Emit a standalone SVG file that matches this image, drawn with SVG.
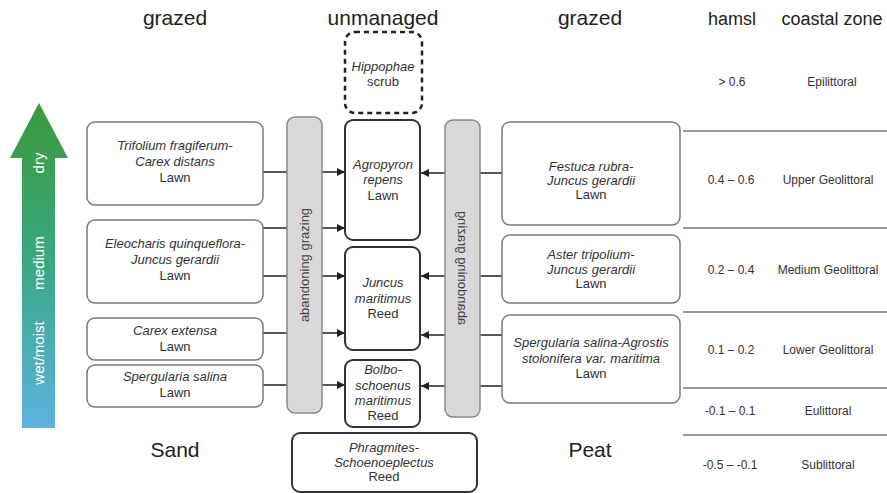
<svg xmlns="http://www.w3.org/2000/svg" width="887" height="493" viewBox="0 0 887 493">
<defs>
<linearGradient id="grad" x1="0" y1="103" x2="0" y2="428" gradientUnits="userSpaceOnUse">
<stop offset="0" stop-color="#3a9a3a"/>
<stop offset="0.5" stop-color="#3aa884"/>
<stop offset="1" stop-color="#5cb3e0"/>
</linearGradient>
<marker id="ah" viewBox="0 0 10 10" refX="10" refY="5" markerWidth="8" markerHeight="8" markerUnits="userSpaceOnUse" orient="auto">
<path d="M0,0 L10,5 L0,10 z" fill="#222"/>
</marker>
<style>
text{font-family:"Liberation Sans",Arial,sans-serif;fill:#333;text-anchor:middle}
.hdr{font-size:21px;fill:#222}
.thdr{font-size:18px;fill:#222}
.t{font-size:12px;fill:#333}
.b{font-size:13px}
.i{font-style:italic}
.side{fill:#fff;stroke:#7a7a7a;stroke-width:1.5}
.ctr{fill:#fff;stroke:#333;stroke-width:2}
.bar{fill:#d9d9d9;stroke:#8a8a8a;stroke-width:1.5}
.bartxt{font-size:13px;fill:#444}
.ax{font-size:15px;fill:#fff}
.ln{stroke:#222;stroke-width:1.5;fill:none}
.tl{stroke:#777;stroke-width:1.5}
</style>
</defs>

<g id="headers">
<text class="hdr" x="175" y="25">grazed</text>
<text class="hdr" x="383" y="25">unmanaged</text>
<text class="hdr" x="590" y="25">grazed</text>
<text class="hdr" x="175" y="457">Sand</text>
<text class="hdr" x="590" y="457">Peat</text>
</g>

<g id="moisture-arrow">
<path d="M39,103 L68,158 L55,158 L55,428 L22,428 L22,158 L10,158 z" fill="url(#grad)"/>
<text class="ax" transform="translate(44,163) rotate(-90)">dry</text>
<text class="ax" transform="translate(44,263) rotate(-90)">medium</text>
<text class="ax" transform="translate(44,353) rotate(-90)">wet/moist</text>
</g>

<g id="table">
<text class="thdr" x="732" y="25">hamsl</text>
<text class="thdr" x="832" y="25">coastal zone</text>
<line class="tl" x1="683" y1="131" x2="887" y2="131"/>
<line class="tl" x1="683" y1="228" x2="887" y2="228"/>
<line class="tl" x1="683" y1="312" x2="887" y2="312"/>
<line class="tl" x1="683" y1="388" x2="887" y2="388"/>
<line class="tl" x1="683" y1="435" x2="887" y2="435"/>
<text class="t" x="732" y="86">&gt; 0.6</text>
<text class="t" x="832" y="86">Epilittoral</text>
<text class="t" x="731" y="184">0.4 – 0.6</text>
<text class="t" x="828" y="184">Upper Geolittoral</text>
<text class="t" x="731" y="274">0.2 – 0.4</text>
<text class="t" x="828" y="274">Medium Geolittoral</text>
<text class="t" x="731" y="354">0.1 – 0.2</text>
<text class="t" x="828" y="354">Lower Geolittoral</text>
<text class="t" x="730" y="415">-0.1 – 0.1</text>
<text class="t" x="828" y="415">Eulittoral</text>
<text class="t" x="730" y="469">-0.5 – -0.1</text>
<text class="t" x="828" y="469">Sublittoral</text>
</g>

<g id="connectors">
<line class="ln" x1="263" y1="172" x2="287" y2="172"/>
<line class="ln" x1="263" y1="228" x2="287" y2="228"/>
<line class="ln" x1="263" y1="276" x2="287" y2="276"/>
<line class="ln" x1="263" y1="333" x2="287" y2="333"/>
<line class="ln" x1="263" y1="385" x2="287" y2="385"/>
<line class="ln" x1="322" y1="172" x2="345" y2="172" marker-end="url(#ah)"/>
<line class="ln" x1="322" y1="228" x2="345" y2="228" marker-end="url(#ah)"/>
<line class="ln" x1="322" y1="276" x2="345" y2="276" marker-end="url(#ah)"/>
<line class="ln" x1="322" y1="333" x2="345" y2="333" marker-end="url(#ah)"/>
<line class="ln" x1="322" y1="385" x2="345" y2="385" marker-end="url(#ah)"/>
<line class="ln" x1="445" y1="173" x2="421" y2="173" marker-end="url(#ah)"/>
<line class="ln" x1="445" y1="276" x2="421" y2="276" marker-end="url(#ah)"/>
<line class="ln" x1="445" y1="335" x2="421" y2="335" marker-end="url(#ah)"/>
<line class="ln" x1="445" y1="386" x2="421" y2="386" marker-end="url(#ah)"/>
<line class="ln" x1="480" y1="173" x2="502" y2="173"/>
<line class="ln" x1="480" y1="276" x2="502" y2="276"/>
<line class="ln" x1="480" y1="335" x2="502" y2="335"/>
<line class="ln" x1="480" y1="386" x2="502" y2="386"/>
</g>

<g id="trifolium">
<rect class="side" x="87" y="122" width="176" height="83" rx="8"/>
<text class="b i" x="175" y="150">Trifolium fragiferum-</text>
<text class="b i" x="175" y="166">Carex distans</text>
<text class="b" x="175" y="182">Lawn</text>
</g>
<g id="eleocharis">
<rect class="side" x="87" y="220" width="176" height="83" rx="8"/>
<text class="b i" x="175" y="248">Eleocharis quinqueflora-</text>
<text class="b i" x="175" y="264">Juncus gerardii</text>
<text class="b" x="175" y="280">Lawn</text>
</g>
<g id="carex-extensa">
<rect class="side" x="87" y="318" width="176" height="42" rx="8"/>
<text class="b i" x="175" y="335">Carex extensa</text>
<text class="b" x="175" y="351">Lawn</text>
</g>
<g id="spergularia-salina">
<rect class="side" x="87" y="365" width="176" height="42" rx="8"/>
<text class="b i" x="175" y="381">Spergularia salina</text>
<text class="b" x="175" y="397">Lawn</text>
</g>

<g id="bar-left">
<rect class="bar" x="287" y="117" width="35" height="296" rx="8"/>
<text class="bartxt" transform="translate(309,265) rotate(-90)">abandoning grazing</text>
</g>
<g id="bar-right">
<rect class="bar" x="445" y="120" width="35" height="297" rx="8"/>
<text class="bartxt" transform="translate(458,268) scale(-1,1) rotate(-90)">abandoning grazing</text>
</g>

<g id="hippophae">
<rect x="345" y="32" width="77" height="81" rx="10" fill="#fff" stroke="#222" stroke-width="2.5" stroke-dasharray="5 4"/>
<text class="b i" x="383" y="71">Hippophae</text>
<text class="b" x="383" y="86">scrub</text>
</g>
<g id="agropyron">
<rect class="ctr" x="345" y="120" width="75" height="120" rx="8"/>
<text class="b i" x="383" y="169">Agropyron</text>
<text class="b i" x="383" y="184">repens</text>
<text class="b" x="383" y="200">Lawn</text>
</g>
<g id="juncus-maritimus">
<rect class="ctr" x="345" y="247" width="75" height="103" rx="8"/>
<text class="b i" x="383" y="287">Juncus</text>
<text class="b i" x="383" y="303">maritimus</text>
<text class="b" x="383" y="318">Reed</text>
</g>
<g id="bolboschoenus">
<rect class="ctr" x="345" y="360" width="75" height="67" rx="8"/>
<text class="b i" x="383" y="374">Bolbo-</text>
<text class="b i" x="383" y="390">schoenus</text>
<text class="b i" x="383" y="405">maritimus</text>
<text class="b" x="383" y="420">Reed</text>
</g>
<g id="phragmites">
<rect class="ctr" x="292" y="433" width="185" height="59" rx="8"/>
<text class="b i" x="384" y="452">Phragmites-</text>
<text class="b i" x="384" y="467">Schoenoeplectus</text>
<text class="b" x="384" y="481">Reed</text>
</g>

<g id="festuca">
<rect class="side" x="502" y="122" width="178" height="103" rx="8"/>
<text class="b i" x="591" y="171">Festuca rubra-</text>
<text class="b i" x="591" y="185">Juncus gerardii</text>
<text class="b" x="591" y="199">Lawn</text>
</g>
<g id="aster">
<rect class="side" x="502" y="235" width="178" height="68" rx="8"/>
<text class="b i" x="591" y="259">Aster tripolium-</text>
<text class="b i" x="591" y="274">Juncus gerardii</text>
<text class="b" x="591" y="288">Lawn</text>
</g>
<g id="spergularia-agrostis">
<rect class="side" x="502" y="315" width="178" height="88" rx="8"/>
<text class="b i" x="591" y="347">Spergularia salina-Agrostis</text>
<text class="b i" x="591" y="363">stolonifera var. maritima</text>
<text class="b" x="591" y="378">Lawn</text>
</g>
</svg>
